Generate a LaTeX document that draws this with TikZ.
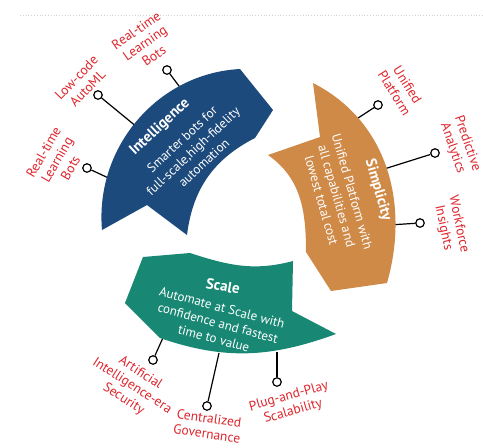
\documentclass[tikz,border=0pt]{standalone}
\usepackage{fontspec}
\setmainfont{PT Sans}
\definecolor{iblue}{RGB}{29,74,124}
\definecolor{sorange}{RGB}{208,138,72}
\definecolor{sgreen}{RGB}{24,136,116}
\definecolor{lred}{RGB}{222,38,45}
\begin{document}
\begin{tikzpicture}[x=1pt,y=1pt,
  lbl/.style={text=lred, font=\fontsize{13.5}{15.5}\selectfont, align=center, inner sep=0pt},
  pin/.style={circle, draw=black, fill=white, line width=1.2pt, minimum size=8.5pt, inner sep=0pt},
  conn/.style={draw=black, line width=1.2pt},
  ttl/.style={text=white, font=\bfseries\fontsize{15}{18}\selectfont, inner sep=0pt},
  body/.style={text=white, align=center, font=\fontsize{13}{16}\selectfont, inner sep=0pt}]
\useasboundingbox (0,0) rectangle (483,-448);
\fill[white] (0,0) rectangle (483,-448);
\draw[gray!35, dotted, line width=0.8pt] (20,-15) -- (483,-15);

% pins
\node[pin] (p1) at (167,-70) {};
\node[pin] (p2) at (98,-95) {};
\node[pin] (p3) at (87,-168) {};
\node[pin] (p4) at (378,-105) {};
\node[pin] (p5) at (435,-153) {};
\node[pin] (p6) at (420,-223) {};
\node[pin] (p7) at (153,-360) {};
\node[pin] (p8) at (207,-406) {};
\node[pin] (p9) at (277,-382) {};
% connector ends inside shapes
\coordinate (e1) at (188,-98);
\coordinate (e2) at (143,-132);
\coordinate (e3) at (115,-181);
\coordinate (e4) at (352,-122);
\coordinate (e5) at (381,-170);
\coordinate (e6) at (389,-225);
\coordinate (e7) at (166,-331);
\coordinate (e8) at (219,-353);
\coordinate (e9) at (277,-352);
\foreach \i in {1,...,9} \draw[conn] (p\i) -- (e\i);

% Intelligence (blue)
\fill[iblue] (240,-69) to[out=183,in=95] (102,-230) -- (147,-205) -- (187,-235)
  to[bend left=28] (255,-138) -- (273,-110) -- cycle;
% Simplicity (orange)
\fill[sorange] (313,-83) to[out=-27,in=74] (387,-283) -- (331,-291) -- (306,-252)
  to[out=90,in=-35] (268,-155) -- (320,-137) -- cycle;
% Scale (green)
\fill[sgreen] (125,-303) -- (143,-257) -- (190,-253) to[out=-18,in=195] (293,-261)
  -- (292,-311) -- (336,-334) to[out=200,in=-19] (160,-338) -- cycle;

% texts in shapes
\node[ttl, rotate=43] (t1) at (160,-127) {Intelligence};
\node[body, rotate=43] (b1) at (193,-151) {Smarter bots for\\full-scale,high-fidelity\\automation};
\node[ttl, rotate=-74] (t2) at (378,-190) {Simplicity};
\node[body, rotate=-74] (b2) at (337,-196) {Unified Platform with\\all capabilities and\\lowest total cost};
\node[ttl, rotate=-10] (t3) at (223,-286) {Scale};
\node[body, rotate=-15] (b3) at (218,-323) {Automate at Scale with\\confidence and fastest\\time to value};

% labels
\node[lbl, rotate=35] (l1) at (145,-43) {Real-time\\Learning\\Bots};
\node[lbl, rotate=46] (l2) at (82,-83) {Low-code\\AutoML};
\node[lbl, rotate=60] (l3) at (57,-160) {Real-time\\Learning\\Bots};
\node[lbl, rotate=-58] (l4) at (401,-89) {Unified\\Platform};
\node[lbl, rotate=-71] (l5) at (460,-146) {Predictive\\Analytics};
\node[lbl, rotate=-78] (l6) at (451,-226) {Workforce\\Insights};
\node[lbl, rotate=-33] (l7) at (132,-386) {Artificial\\Intelligence-era\\Security};
\node[lbl, rotate=-8] (l8) at (208,-426) {Centralized\\Governance};
\node[lbl, rotate=16] (l9) at (291,-404) {Plug-and-Play\\Scalability};
\end{tikzpicture}
\end{document}
